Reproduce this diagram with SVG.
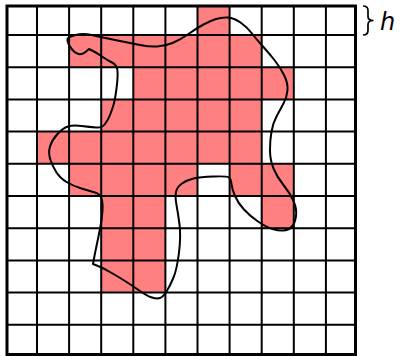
<svg xmlns="http://www.w3.org/2000/svg" width="404" height="356" viewBox="0 0 404 356">
<style>
.cell{fill:#ff8080;stroke:none}
.grid{stroke:#000;stroke-width:2;fill:none}
.border{stroke:#000;stroke-width:3;fill:none}
.curve{stroke:#000;stroke-width:2;fill:none;stroke-linejoin:round}
.lbl{font-family:"DejaVu Sans",sans-serif;font-style:italic;font-size:24px;fill:#000}
</style>
<rect width="404" height="356" fill="#fff"/>
<g id="cells">
<rect class="cell" x="197.5" y="6" width="32.1" height="29"/>
<rect class="cell" x="69.1" y="35" width="192.6" height="32.2"/>
<rect class="cell" x="133.3" y="67.2" width="160.5" height="32.2"/>
<rect class="cell" x="101.2" y="99.4" width="160.5" height="32.2"/>
<rect class="cell" x="37" y="131.6" width="224.7" height="32.2"/>
<rect class="cell" x="69.1" y="163.8" width="128.4" height="32.2"/>
<rect class="cell" x="229.6" y="163.8" width="64.2" height="32.2"/>
<rect class="cell" x="261.7" y="196" width="32.1" height="32.2"/>
<rect class="cell" x="101.2" y="196" width="64.2" height="96.6"/>
</g>
<g id="grid">
<path class="grid" d="M37,6V354.5M69.1,6V354.5M101.2,6V354.5M133.3,6V354.5M165.4,6V354.5M197.5,6V354.5M229.6,6V354.5M261.7,6V354.5M293.8,6V354.5M325.9,6V354.5"/>
<path class="grid" d="M7,35H355.5M7,67.2H355.5M7,99.4H355.5M7,131.6H355.5M7,163.8H355.5M7,196H355.5M7,228.2H355.5M7,260.4H355.5M7,292.6H355.5M7,324.8H355.5"/>
<rect class="border" x="7" y="6" width="348.5" height="348.5"/>
</g>
<g id="region">
<path class="curve" d="M67.5,39 Q68,37 75.5,35 Q83,33 91.5,35 Q100,37 115,40 Q130,43 140,45 Q150,47 157.5,46.5 Q165,46 172.5,43 Q180,40 188.5,34 Q197,28 203.5,24.5 Q210,21 216,19 Q222,17 228,17.5 Q234,18 240.5,22.5 Q247,27 252,33.5 Q257,40 262.5,46 Q268,52 274,59.5 Q280,67 284,75 Q288,83 287.5,90 Q287,97 283.5,103.5 Q280,110 276.5,116.5 Q273,123 271.5,131.5 Q270,140 270,150 Q270,160 273.5,168.5 Q277,177 283.5,185 Q290,193 293.5,201 Q297,209 296,216 Q295,223 292,226.5 Q289,230 284,230.5 Q279,231 272.5,229 Q266,227 258,221.5 Q250,216 244,209.5 Q238,203 235,196 Q232,189 231.5,184 Q231,179 229,177.5 Q227,176 213.5,176.5 Q200,177 193.5,178.5 Q187,180 182,183.5 Q177,187 176,192 Q175,197 176.5,205 Q178,213 179.5,224.5 Q181,236 179,252.5 Q177,269 173.5,277.5 Q170,286 166.5,291.5 Q163,297 160,298 Q157,299 152,297.5 Q147,296 140,291 Q133,286 125,281 Q117,276 110,272 Q103,268 98,266 L93,264 L94,258.5 Q95,253 96.5,246 Q98,239 100,229 Q102,219 102.5,211 Q103,203 101.5,198.5 Q100,194 95,192.5 Q90,191 81.5,188.5 Q73,186 66.5,182 Q60,178 56.5,172.5 Q53,167 50.5,160 Q48,153 50,146.5 Q52,140 57.5,134 Q63,128 68,126.5 Q73,125 81.5,126 Q90,127 96,127.5 Q102,128 105,124 Q108,120 110,115 Q112,110 113.5,105 Q115,100 116.5,88.5 Q118,77 117.5,71 Q117,65 112,62.5 Q107,60 102,56.5 Q97,53 93,51 L89,49 L85.5,52 Q82,55 78.5,54 Q75,53 72.5,50 Q70,47 68.5,44 Q67,41 67.5,39 Z"/>
</g>
<g id="label">
<path d="M363,6 Q368,6 368,10.5 V16.5 Q368,20.5 373.5,20.5 Q368,20.5 368,24.5 V30.5 Q368,35 363,35" fill="none" stroke="#000" stroke-width="1.7"/>
<text class="lbl" x="380" y="30">h</text>
</g>
</svg>
